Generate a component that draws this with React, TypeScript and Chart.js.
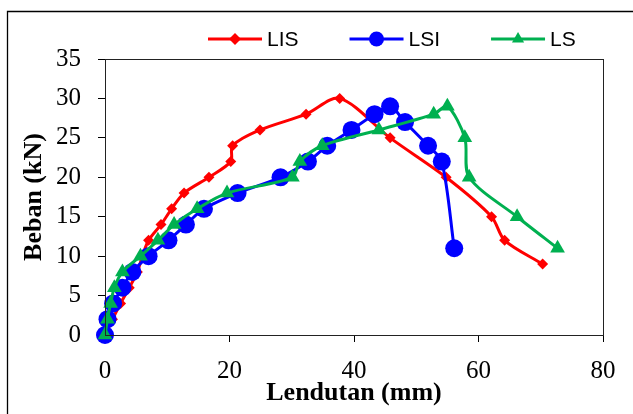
import React, { useEffect, useRef } from "react";
import { Chart, registerables } from "chart.js";

Chart.register(...registerables);

const seriesNames = ["LIS", "LSI", "LS"];
const seriesColors = ["#FF0000", "#0000FF", "#00B050"];

const lisX = [0, 1.2, 2.5, 3.9, 5.2, 6.0, 7.0, 9.0, 10.7, 12.7, 16.7, 20.2, 20.5, 24.9, 32.3, 37.7, 45.8, 54.8, 62.1, 64.2, 70.3];
const lisY = [0, 2, 4, 6, 8, 10, 12, 14, 16, 18, 20, 22, 24, 26, 28, 30, 25, 20, 15, 12, 9];

const lsiX = [0, 0.4, 1.3, 2.8, 4.4, 7.0, 10.2, 13.0, 15.9, 21.3, 28.2, 32.6, 35.7, 39.6, 43.3, 45.8, 48.2, 51.9, 54.1, 56.1];
const lsiY = [0, 2, 4, 6, 8, 10, 12, 14, 16, 18, 20, 22, 24, 26, 28, 29, 27, 24, 22, 11];

const lsX = [0, 0.4, 0.9, 1.5, 2.8, 5.7, 8.5, 11.1, 14.8, 19.6, 30.1, 31.3, 34.9, 44.0, 52.8, 55.0, 57.8, 58.5, 66.2, 72.7];
const lsY = [0, 2, 4, 6, 8, 10, 12, 14, 16, 18, 20, 22, 24, 26, 28, 29, 25, 20, 15, 11];

const xAxisTitle = "Lendutan (mm)";
const yAxisTitle = "Beban (kN)";

const toPoints = (xs: number[], ys: number[]) => xs.map((x, i) => ({ x, y: ys[i] }));

const pointStyles = ["rectRot", "circle", "triangle"] as const;
const pointRadii = [5.5, 9, 8.5];
const legendRadii = [6, 7.5, 7];

const framePlugin = {
  id: "frame",
  beforeDraw(chart: any) {
    const ctx = chart.ctx;
    ctx.save();
    ctx.fillStyle = "#fff";
    ctx.fillRect(0, 0, chart.width, chart.height);
    ctx.strokeStyle = "#000";
    ctx.lineWidth = 1.3;
    ctx.beginPath();
    ctx.moveTo(7.5, chart.height);
    ctx.lineTo(7.5, 11.5);
    ctx.lineTo(chart.width, 11.5);
    ctx.stroke();
    ctx.restore();
  },
  afterDraw(chart: any) {
    const { ctx, chartArea } = chart;
    ctx.save();
    ctx.strokeStyle = "#222";
    ctx.lineWidth = 1;
    ctx.strokeRect(chartArea.left + 0.5, chartArea.top + 0.5, chartArea.right - chartArea.left, chartArea.bottom - chartArea.top);
    // legend
    ctx.font = "21px 'Liberation Sans'";
    ctx.textBaseline = "middle";
    ctx.textAlign = "left";
    let x = chartArea.left + 103;
    const y = chartArea.top - 20;
    seriesNames.forEach((name, i) => {
      const color = seriesColors[i];
      ctx.strokeStyle = color;
      ctx.lineWidth = 3;
      ctx.beginPath();
      ctx.moveTo(x, y);
      ctx.lineTo(x + 54, y);
      ctx.stroke();
      ctx.fillStyle = color;
      const cx = x + 27;
      const r = legendRadii[i];
      ctx.beginPath();
      if (pointStyles[i] === "rectRot") {
        ctx.moveTo(cx, y - r);
        ctx.lineTo(cx + r, y);
        ctx.lineTo(cx, y + r);
        ctx.lineTo(cx - r, y);
      } else if (pointStyles[i] === "circle") {
        ctx.arc(cx, y, r, 0, Math.PI * 2);
      } else {
        ctx.moveTo(cx, y - r);
        ctx.lineTo(cx + r * 0.866, y + r * 0.5);
        ctx.lineTo(cx - r * 0.866, y + r * 0.5);
      }
      ctx.closePath();
      ctx.fill();
      ctx.fillStyle = "#000";
      ctx.fillText(name, x + 59, y + 1);
      const tw = ctx.measureText(name).width;
      x = x + 59 + tw + 51;
    });
    ctx.restore();
  },
};

export default function App() {
  const ref = useRef<HTMLCanvasElement | null>(null);
  useEffect(() => {
    if (!ref.current) return;
    const all = [toPoints(lisX, lisY), toPoints(lsiX, lsiY), toPoints(lsX, lsY)];
    const chart = new Chart(ref.current, {
      type: "scatter",
      data: {
        datasets: all.map((d, i) => ({
          label: seriesNames[i],
          data: d,
          showLine: true,
          borderColor: seriesColors[i],
          backgroundColor: seriesColors[i],
          borderWidth: 3,
          tension: 0.3,
          pointStyle: pointStyles[i],
          pointRadius: pointRadii[i],
          pointBorderWidth: 0,
          pointBackgroundColor: seriesColors[i],
          order: 3 - i,
          clip: false as any,
        })),
      },
      options: {
        animation: false,
        responsive: false,
        layout: { padding: { left: 0, right: 30, top: 59, bottom: 0 } },
        plugins: { legend: { display: false }, tooltip: { enabled: false } },
        scales: {
          x: {
            type: "linear",
            min: 0,
            max: 80,
            afterFit(scale: any) {
              scale.height = 79;
            },
            ticks: {
              stepSize: 20,
              color: "#000",
              padding: 14,
              maxRotation: 0,
              font: { family: "'Liberation Serif'", size: 25 },
            },
            grid: { drawOnChartArea: false, drawTicks: true, tickLength: 7, color: "#000" },
            border: { display: true, color: "#000", width: 1 },
            title: {
              display: true,
              text: xAxisTitle,
              color: "#000",
              padding: { top: 0, bottom: 5 },
              font: { family: "'Liberation Serif'", size: 26, weight: "bold" },
            },
          },
          y: {
            type: "linear",
            min: 0,
            max: 35,
            afterFit(scale: any) {
              scale.width = 105;
            },
            ticks: {
              stepSize: 5,
              color: "#000",
              padding: 17,
              font: { family: "'Liberation Serif'", size: 25 },
            },
            grid: { drawOnChartArea: false, drawTicks: true, tickLength: 7, color: "#000" },
            border: { display: true, color: "#000", width: 1 },
            title: {
              display: true,
              text: yAxisTitle,
              color: "#000",
              padding: { top: 19, bottom: 0 },
              font: { family: "'Liberation Serif'", size: 26, weight: "bold" },
            },
          },
        },
      },
      plugins: [framePlugin],
    });
    return () => chart.destroy();
  }, []);
  return (
    <div style={{ position: "absolute", left: 0, top: 0, width: 633, height: 414 }}>
      <canvas ref={ref} width={633} height={414} style={{ display: "block" }} />
    </div>
  );
}
